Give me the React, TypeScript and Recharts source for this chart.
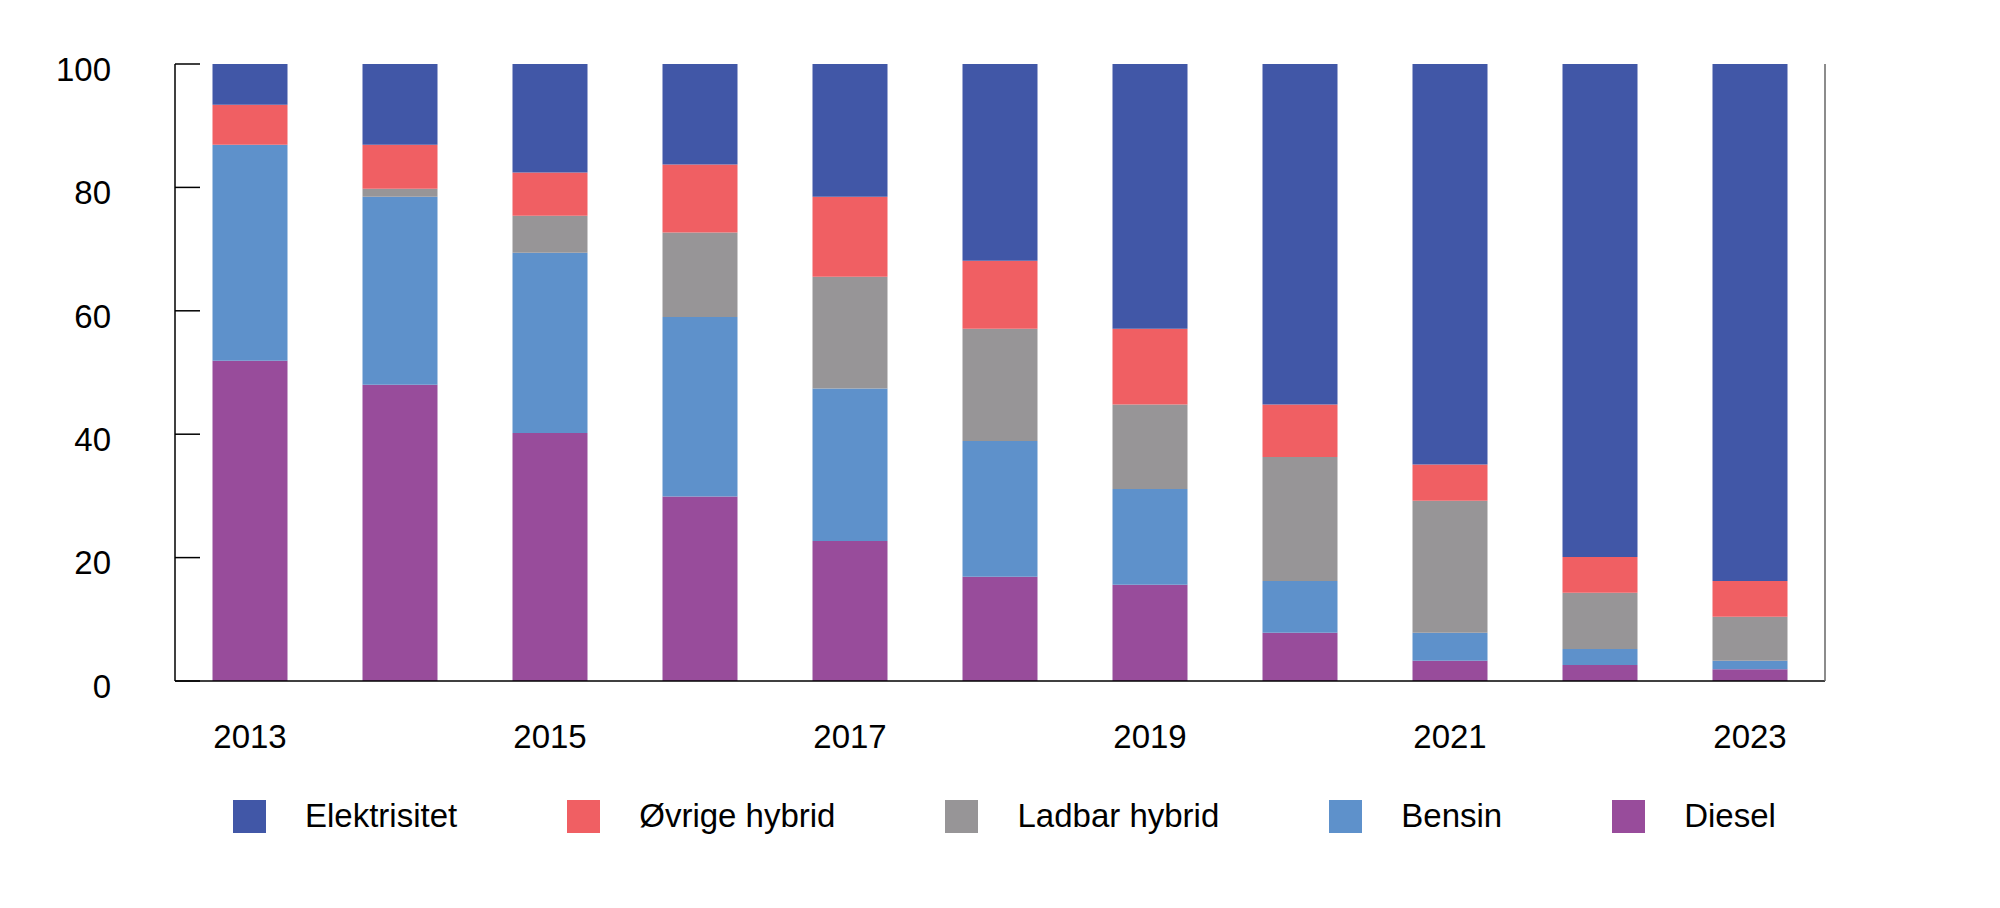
import React from 'react';
import {Bar, BarChart, Legend, XAxis, YAxis} from 'recharts';

const years = ['2013', '2014', '2015', '2016', '2017', '2018', '2019', '2020', '2021', '2022', '2023'];
const diesel = [51.9, 48.0, 40.2, 29.9, 22.7, 16.9, 15.6, 7.8, 3.3, 2.6, 1.9];
const bensin = [35.0, 30.5, 29.2, 29.1, 24.7, 22.0, 15.5, 8.4, 4.5, 2.6, 1.4];
const ladbar = [0, 1.3, 6.0, 13.7, 18.1, 18.2, 13.7, 20.1, 21.4, 9.1, 7.1];
const ovrige = [6.5, 7.1, 7.0, 11.0, 13.0, 11.0, 12.3, 8.5, 5.9, 5.8, 5.8];
const elektrisitet = [6.6, 13.1, 17.6, 16.3, 21.5, 31.9, 42.9, 55.2, 64.9, 79.9, 83.8];
const yTicks = [0, 20, 40, 60, 80, 100];

const series = [
    {key: 'diesel', name: 'Diesel', color: '#984c9b'},
    {key: 'bensin', name: 'Bensin', color: '#5e91cb'},
    {key: 'ladbar', name: 'Ladbar hybrid', color: '#979597'},
    {key: 'ovrige', name: 'Øvrige hybrid', color: '#f05f63'},
    {key: 'elektrisitet', name: 'Elektrisitet', color: '#4157a7'},
];

const data = years.map((year, i) => ({
    year,
    diesel: diesel[i],
    bensin: bensin[i],
    ladbar: ladbar[i],
    ovrige: ovrige[i],
    elektrisitet: elektrisitet[i],
}));

const font = '"Liberation Sans", Arial, Helvetica, sans-serif';

function LegendContent() {
    const items = [...series].reverse();
    return (
        <div style={{display: 'flex', alignItems: 'center', paddingLeft: 233, fontFamily: font, fontSize: 33, color: '#000', height: 52}}>
            {items.map((s) => (
                <div key={s.key} style={{display: 'flex', alignItems: 'center', marginRight: 110}}>
                    <div style={{width: 33, height: 33, background: s.color, marginRight: 39}} />
                    <span>{s.name}</span>
                </div>
            ))}
        </div>
    );
}

export default function App() {
    return (
        <div style={{position: 'absolute', left: 0, top: 0, background: '#fff', fontFamily: font}}>
            <BarChart
                width={2000}
                height={908}
                data={data}
                barCategoryGap="25%"
                margin={{top: 64, right: 0, left: 0, bottom: 115}}
            >
                <XAxis
                    dataKey="year"
                    interval={1}
                    height={60}
                    tickLine={false}
                    tickSize={0}
                    tickMargin={44}
                    axisLine={{stroke: '#000', strokeWidth: 1.5}}
                    tick={{fontSize: 33, fill: '#000', fontFamily: font}}
                />
                <YAxis
                    yAxisId="left"
                    orientation="left"
                    width={175}
                    domain={[0, 100]}
                    ticks={yTicks}
                    tickSize={-25}
                    tickMargin={89}
                    axisLine={{stroke: '#000', strokeWidth: 1.5}}
                    tickLine={{stroke: '#000', strokeWidth: 1.5}}
                    tick={{fontSize: 33, fill: '#000', fontFamily: font, dy: 5}}
                />
                <YAxis
                    yAxisId="right"
                    orientation="right"
                    width={175}
                    domain={[0, 100]}
                    ticks={yTicks}
                    tickSize={-25}
                    tickMargin={88}
                    axisLine={{stroke: '#666', strokeWidth: 1.5}}
                    tickLine={{stroke: '#000', strokeWidth: 1.5}}
                    tick={{fontSize: 33, fill: '#000', fontFamily: font, dy: 5}}
                />
                <Legend
                    verticalAlign="bottom"
                    content={<LegendContent />}
                    wrapperStyle={{top: 790, left: 0, width: 2000, height: 52}}
                />
                {series.map((s) => (
                    <Bar
                        key={s.key}
                        dataKey={s.key}
                        name={s.name}
                        stackId="a"
                        yAxisId="left"
                        fill={s.color}
                        isAnimationActive={false}
                    />
                ))}
            </BarChart>
        </div>
    );
}
